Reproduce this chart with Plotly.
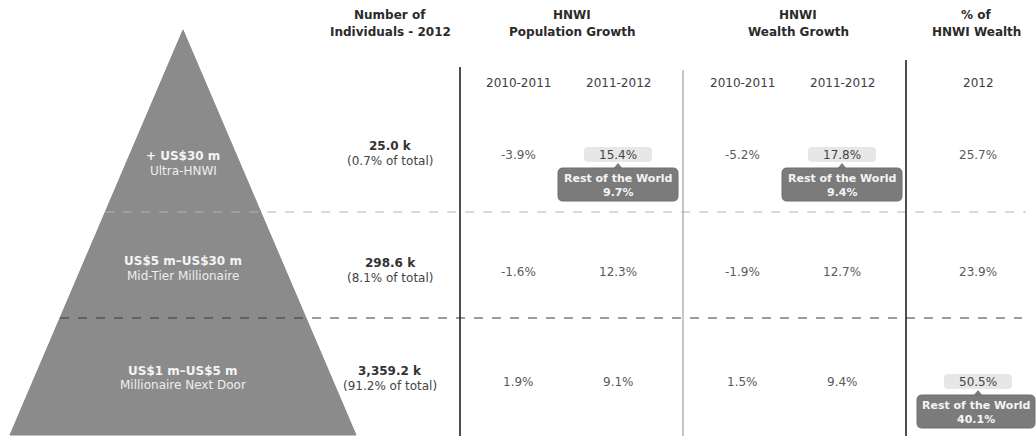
import plotly.graph_objects as go

# ---- data -------------------------------------------------------------
tier_ranges = ["+ US$30 m", "US$5 m\u2013US$30 m", "US$1 m\u2013US$5 m"]
tier_names = ["Ultra-HNWI", "Mid-Tier Millionaire", "Millionaire Next Door"]
individuals_k = [25.0, 298.6, 3359.2]
share_of_total = [0.7, 8.1, 91.2]
pop_growth_2010_2011 = [-3.9, -1.6, 1.9]
pop_growth_2011_2012 = [15.4, 12.3, 9.1]
wealth_growth_2010_2011 = [-5.2, -1.9, 1.5]
wealth_growth_2011_2012 = [17.8, 12.7, 9.4]
wealth_share_2012 = [25.7, 23.9, 50.5]

period_labels = ["2010-2011", "2011-2012", "2010-2011", "2011-2012", "2012"]
group_titles = [
    ("Number of", "Individuals - 2012"),
    ("HNWI", "Population Growth"),
    ("HNWI", "Wealth Growth"),
    ("% of", "HNWI Wealth"),
]
# "Rest of the World" comparison values: (column index, tier index, value)
rest_of_world = [(1, 0, 9.7), (3, 0, 9.4), (4, 2, 40.1)]

# ---- layout geometry (pixel-like canvas) ------------------------------
W, H = 1036, 438
FONT = "DejaVu Sans, Verdana, sans-serif"
col_x = [518, 618, 742, 842, 978]     # value columns
count_x = 390
group_x = [390, 572, 798, 976]
row_y = [155, 272, 382]
count_y = [(146, 161), (263, 278), (371, 386)]
tier_y = [(156, 171), (261, 276), (371, 385)]

apex = (183, 30)
base_y, base_l, base_r = 435, 10, 356
divider_y = [212, 318]

fig = go.Figure()


def edge_x(y, side):
    t = (y - apex[1]) / (base_y - apex[1])
    if side < 0:
        return apex[0] + (base_l - apex[0]) * t
    return apex[0] + (base_r - apex[0]) * t


# pyramid
fig.add_trace(go.Scatter(
    x=[apex[0], base_r, base_l, apex[0]],
    y=[apex[1], base_y, base_y, apex[1]],
    mode="lines", fill="toself", fillcolor="#8b8b8b",
    line=dict(color="#888888", width=1), hoverinfo="skip", showlegend=False,
))

shapes = []
# tier dividers
shapes.append(dict(type="line", x0=edge_x(divider_y[0], -1), x1=1026,
                   y0=divider_y[0], y1=divider_y[0],
                   line=dict(color="#b4b4b4", width=1.2, dash="dash")))
shapes.append(dict(type="line", x0=edge_x(divider_y[1], -1), x1=1022,
                   y0=divider_y[1], y1=divider_y[1],
                   line=dict(color="#3a3a3a", width=1.2, dash="dash")))
# column separators
shapes.append(dict(type="line", x0=460, x1=460, y0=67, y1=436,
                   line=dict(color="#222222", width=1.6)))
shapes.append(dict(type="line", x0=683, x1=683, y0=70, y1=436,
                   line=dict(color="#a0a0a0", width=1.2)))
shapes.append(dict(type="line", x0=906, x1=906, y0=60, y1=436,
                   line=dict(color="#222222", width=1.6)))


def rounded(x0, y0, x1, y1, r):
    return (f"M {x0+r},{y0} L {x1-r},{y0} Q {x1},{y0} {x1},{y0+r} "
            f"L {x1},{y1-r} Q {x1},{y1} {x1-r},{y1} L {x0+r},{y1} "
            f"Q {x0},{y1} {x0},{y1-r} L {x0},{y0+r} Q {x0},{y0} {x0+r},{y0} Z")


annotations = []


def text(x, y, s, size=12, color="#555555", bold=False):
    annotations.append(dict(
        x=x, y=y, text=f"<b>{s}</b>" if bold else s, showarrow=False,
        xanchor="center", yanchor="middle",
        font=dict(family=FONT, size=size, color=color),
    ))


# headers
for gx, (l1, l2) in zip(group_x, group_titles):
    text(gx, 15, l1, size=12, color="#2b2b2b", bold=True)
    text(gx, 32, l2, size=12, color="#2b2b2b", bold=True)
for cx, p in zip(col_x, period_labels):
    text(cx, 83, p, size=12, color="#3c3c3c")

# pyramid tier labels
for (y1, y2), rng, name in zip(tier_y, tier_ranges, tier_names):
    text(apex[0], y1, rng, size=12, color="#f4f4f4", bold=True)
    text(apex[0], y2, name, size=12, color="#eeeeee")

# number of individuals
for (y1, y2), n, s in zip(count_y, individuals_k, share_of_total):
    text(count_x, y1, f"{n:,.1f} k", size=12, color="#333333", bold=True)
    text(count_x, y2, f"({s:.1f}% of total)", size=12, color="#444444")

columns = [pop_growth_2010_2011, pop_growth_2011_2012,
           wealth_growth_2010_2011, wealth_growth_2011_2012, wealth_share_2012]

# callouts: highlight behind the value, pointer and dark label box
highlighted = set()
for ci, ri, v in rest_of_world:
    highlighted.add((ci, ri))
    cx, cy = col_x[ci], row_y[ri]
    shapes.append(dict(type="path", path=rounded(cx - 34, cy - 8, cx + 34, cy + 7, 4),
                       fillcolor="#e7e7e7", line=dict(width=0), layer="below"))
    shapes.append(dict(type="path",
                       path=f"M {cx-5},{cy+14} L {cx},{cy+8} L {cx+5},{cy+14} Z",
                       fillcolor="#7c7c7c", line=dict(width=0)))
    # the last column's box is nudged left to stay inside the page
    bx = cx - 2 if ci == 4 else cx
    bw = 59 if ci == 4 else 60
    shapes.append(dict(type="path",
                       path=rounded(bx - bw, cy + 13, bx + bw, cy + 46, 5),
                       fillcolor="#7b7b7b", line=dict(color="#6e6e6e", width=1)))
    text(bx, cy + 23, "Rest of the World", size=11, color="#f4f4f4", bold=True)
    text(bx, cy + 37, f"{v:.1f}%", size=11, color="#f4f4f4", bold=True)

# table values
for ci, vals in enumerate(columns):
    for ri, v in enumerate(vals):
        text(col_x[ci], row_y[ri], f"{v:.1f}%", size=12,
             color="#444444" if (ci, ri) in highlighted else "#5a5a5a")

fig.update_layout(
    width=W, height=H,
    margin=dict(l=0, r=0, t=0, b=0),
    paper_bgcolor="white", plot_bgcolor="white",
    xaxis=dict(range=[0, W], visible=False, fixedrange=True),
    yaxis=dict(range=[H, 0], visible=False, fixedrange=True),
    shapes=shapes, annotations=annotations, showlegend=False,
)

fig.write_html("out.html")
